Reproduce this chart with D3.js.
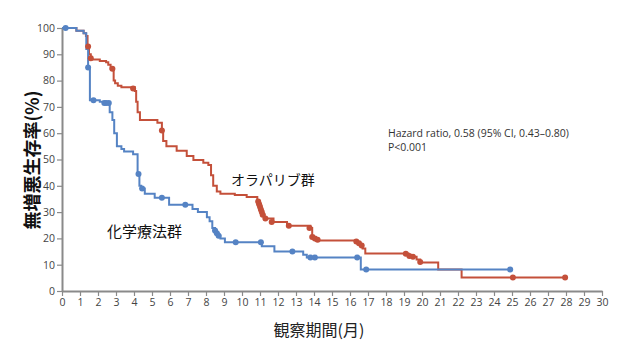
<!DOCTYPE html>
<html>
<head>
<meta charset="utf-8">
<script src="https://cdn.jsdelivr.net/npm/d3@7/dist/d3.min.js"></script>
<style>
  body { margin: 0; background: #fff; }
  svg { display: block; }
</style>
</head>
<body>
<svg id="chart" width="631" height="355"></svg>
<script>
// ---- data ----
const xTicks = d3.range(0, 31, 1);
const yTicks = d3.range(0, 101, 10);

// chemotherapy group (blue): step starts [month, % PFS]
const chemoTime = [0, 0.8, 1.2, 1.35, 1.45, 1.55, 2.1, 2.3, 2.65, 2.8, 2.9, 3.05, 3.3, 3.45, 3.95, 4.2, 4.3, 4.4, 4.6, 5.15, 5.95, 7.25, 7.55, 8.05, 8.2, 8.35, 8.5, 8.6, 8.7, 8.8, 9.05, 11.1, 11.8, 13.4, 13.6, 16.6, 24.9];
const chemoSurv = [100, 99, 98, 92, 85, 72.5, 72, 71.5, 68, 65, 60, 55, 54, 53, 52, 44.5, 40, 39, 37, 35.5, 32.8, 31.2, 30, 28, 26.5, 24, 23, 22, 21, 20, 18.5, 17, 15, 13.8, 12.7, 8.2, 8.2];
const chemoCensT = [0.2, 1.45, 1.75, 2.35, 2.45, 2.6, 4.25, 4.45, 5.55, 6.85, 8.5, 8.6, 8.7, 9.65, 11.05, 12.8, 13.8, 14.05, 16.4, 16.9, 24.9];
const chemoCensS = [100, 85, 72.5, 71.5, 71.5, 71.5, 44.5, 39, 35.5, 32.8, 23, 22, 21, 18.5, 18.5, 15, 12.7, 12.7, 12.7, 8.2, 8.2];

// olaparib group (red)
const olapTime = [0, 0.8, 1.2, 1.33, 1.42, 1.5, 1.6, 2.1, 2.45, 2.57, 2.7, 2.87, 2.95, 3.1, 3.3, 4.05, 4.12, 4.2, 4.33, 5.3, 5.55, 5.62, 5.8, 6.37, 6.93, 7.3, 7.85, 8.13, 8.28, 8.4, 8.6, 8.8, 9.6, 10.26, 10.85, 10.95, 11.0, 11.05, 11.1, 11.15, 11.25, 11.75, 12.5, 13.8, 13.9, 14.0, 14.1, 16.4, 16.55, 16.7, 16.85, 19.25, 19.45, 19.7, 19.9, 20.9, 22.2, 28];
const olapSurv = [100, 99, 98, 97, 93, 90, 88, 87.5, 87, 86, 84.5, 80, 79, 78, 77.5, 76, 72, 68, 65, 64, 61, 57, 55, 53.3, 51.3, 49.8, 48.8, 47.9, 44, 40, 37.8, 37, 36.5, 35.7, 34, 33, 32, 31, 30, 29, 27.6, 26.2, 24.8, 24, 21, 20, 19.2, 18.5, 17.5, 16.2, 14.3, 13.5, 13, 12, 10.8, 8.2, 5.1, 5.1];
const olapCensT = [1.45, 1.6, 2.8, 3.95, 5.55, 10.9, 10.95, 11.0, 11.05, 11.1, 11.15, 11.3, 11.65, 12.6, 13.75, 13.9, 14.05, 14.2, 16.35, 16.5, 16.65, 19.1, 19.3, 19.5, 19.9, 25.05, 27.95];
const olapCensS = [93, 88.5, 84.5, 77, 61, 34, 33, 32, 31, 30, 29, 27.6, 26.2, 24.8, 24, 20.5, 20, 19.5, 18.8, 18.2, 17.3, 14.2, 13.3, 13, 11, 5.1, 5.1];

const yTitle = "無増悪生存率(%)";
const xTitle = "観察期間(月)";
const olapLabel = "オラパリブ群";
const chemoLabel = "化学療法群";
const hrText = "Hazard ratio, 0.58 (95% CI, 0.43–0.80)";
const pText = "P<0.001";

// ---- drawing ----
const svg = d3.select("#chart");
const x = d3.scaleLinear().domain([0, 30]).range([62, 602]);
const y = d3.scaleLinear().domain([0, 100]).range([291, 28]);

const red = "#c4503a";
const blue = "#5583c4";
const axisCol = "#8a8a8a";
const tickFont = "'Open Sans', 'Noto Sans', sans-serif";

const xAxis = svg.append("g")
  .attr("transform", `translate(0,${y(0)})`)
  .call(d3.axisBottom(x).tickValues(xTicks).tickSize(5).tickSizeOuter(0).tickPadding(3));
const yAxis = svg.append("g")
  .attr("transform", `translate(${x(0)},0)`)
  .call(d3.axisLeft(y).tickValues(yTicks).tickSize(5).tickSizeOuter(0).tickPadding(2));

[xAxis, yAxis].forEach(g => {
  g.select(".domain").attr("stroke", axisCol).attr("stroke-width", 2);
  g.selectAll(".tick line").attr("stroke", axisCol).attr("stroke-width", 1.2);
  g.selectAll(".tick text").attr("fill", "#444").style("font-family", tickFont).style("font-size", "10.5px");
});

const line = d3.line().x(d => x(d[0])).y(d => y(d[1])).curve(d3.curveStepAfter);

const olapData = olapTime.map((t, i) => [t, olapSurv[i]]);
const chemoData = chemoTime.map((t, i) => [t, chemoSurv[i]]);

svg.append("path").datum(olapData).attr("d", line)
  .attr("fill", "none").attr("stroke", red).attr("stroke-width", 2);
svg.append("path").datum(chemoData).attr("d", line)
  .attr("fill", "none").attr("stroke", blue).attr("stroke-width", 2);

svg.append("g").selectAll("circle")
  .data(olapCensT.map((t, i) => [t, olapCensS[i]]))
  .join("circle")
  .attr("cx", d => x(d[0])).attr("cy", d => y(d[1])).attr("r", 3)
  .attr("fill", red);
svg.append("g").selectAll("circle")
  .data(chemoCensT.map((t, i) => [t, chemoCensS[i]]))
  .join("circle")
  .attr("cx", d => x(d[0])).attr("cy", d => y(d[1])).attr("r", 3)
  .attr("fill", blue);

const cjk = "'Noto Sans CJK JP', sans-serif";

svg.append("text")
  .attr("transform", `translate(31,160) rotate(-90)`)
  .attr("text-anchor", "middle").attr("dominant-baseline", "central")
  .style("font-family", cjk).style("font-size", "18px").style("font-weight", "bold")
  .attr("fill", "#111").text(yTitle);

svg.append("text")
  .attr("x", 319).attr("y", 336)
  .attr("text-anchor", "middle")
  .style("font-family", cjk).style("font-size", "16px")
  .attr("fill", "#222").text(xTitle);

svg.append("text")
  .attr("x", 231).attr("y", 185)
  .style("font-family", cjk).style("font-size", "14px")
  .attr("fill", "#111").text(olapLabel);

svg.append("text")
  .attr("x", 107).attr("y", 237)
  .style("font-family", cjk).style("font-size", "15px")
  .attr("fill", "#111").text(chemoLabel);

svg.append("text")
  .attr("x", 388).attr("y", 137)
  .style("font-family", tickFont).style("font-size", "10.5px")
  .attr("fill", "#333").text(hrText);
svg.append("text")
  .attr("x", 388).attr("y", 151)
  .style("font-family", tickFont).style("font-size", "10.5px")
  .attr("fill", "#333").text(pText);
</script>
</body>
</html>
